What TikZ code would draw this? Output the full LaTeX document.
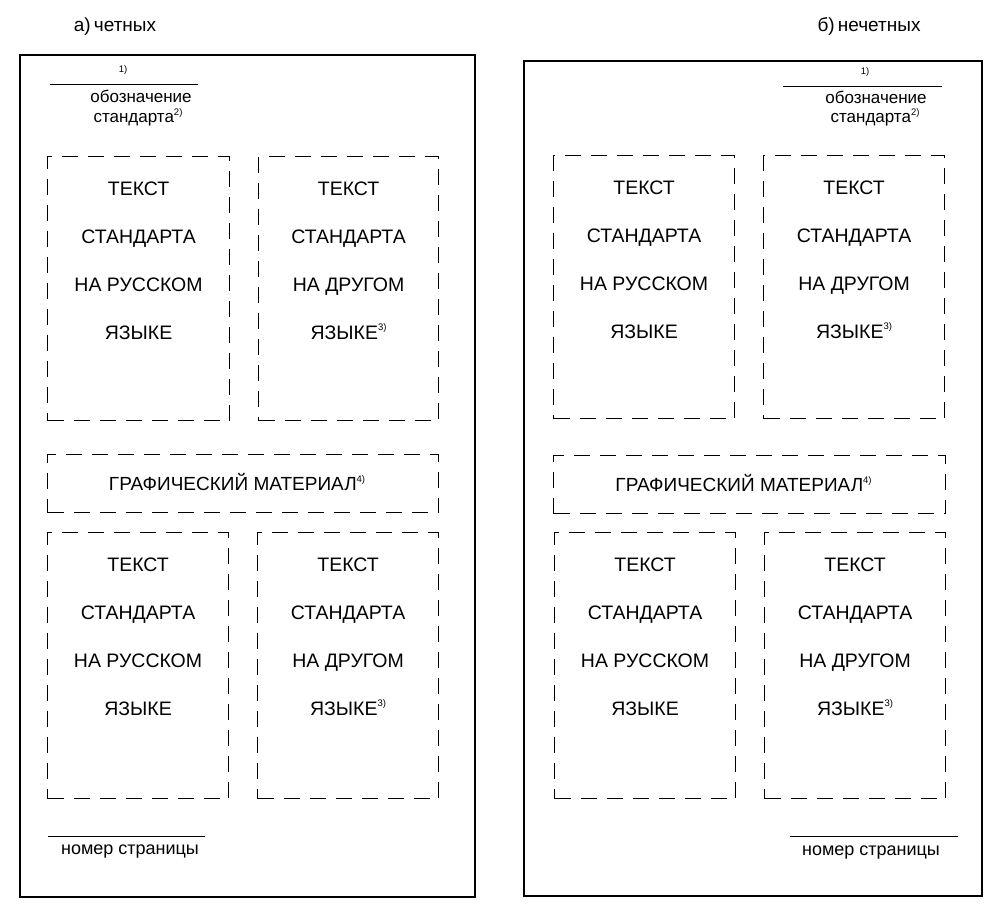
\documentclass[tikz,border=0pt]{standalone}
\usepackage{fontspec}
\setmainfont{Liberation Sans}
\usetikzlibrary{calc}

\newcommand{\fnmark}[1]{\raisebox{0.42em}{\fontsize{9.5}{9.5}\selectfont #1}}

\tikzset{
  pageframe/.style={draw,line width=1.6pt},
  textbox/.style={draw,dash pattern=on 16pt off 10pt,line width=1.1pt,inner sep=0pt,anchor=north west},
  word/.style={font=\fontsize{17}{20}\selectfont,anchor=base,inner sep=0pt},
  caps/.style={font=\fontsize{19.5}{22}\selectfont,anchor=base,inner sep=0pt},
  note/.style={font=\fontsize{9.5}{9.5}\selectfont,inner sep=0pt},
  rule/.style={line width=0.9pt}
}

\begin{document}
\begin{tikzpicture}[x=1pt,y=-1pt]
\useasboundingbox (0,0) rectangle (995,912);

% a) even pages
\node[word,font=\fontsize{19}{22}\selectfont] (titleA) at (115,31.5) {а)\,четных};
\draw[pageframe] (20,55) rectangle (475,897);
\node[note] (fnA) at (123,70) {1)};
\draw[rule] (50,84) -- (198,84);
\node[word] (desA) at (141,102.5) {обозначение};
\node[word] (stdA) at (138,122.5) {стандарта\fnmark{2)}};

\node[textbox,minimum width=182pt,minimum height=264pt] (ruA) at (47,156) {};
\node[textbox,minimum width=180pt,minimum height=264pt] (otA) at (258,156) {};
\node[textbox,minimum width=391pt,minimum height=58pt] (grA) at (47,454) {};
\node[textbox,minimum width=181pt,minimum height=266pt] (ruB) at (47,532) {};
\node[textbox,minimum width=181pt,minimum height=266pt] (otB) at (257,532) {};

\draw[rule] (48,836) -- (205,836);
\node[word,font=\fontsize{18}{20}\selectfont] (pgA) at (130,854.5) {номер страницы};

% b) odd pages
\node[word,font=\fontsize{19}{22}\selectfont] (titleB) at (869,31.5) {б)\,нечетных};
\draw[pageframe] (524,61) rectangle (982,896);
\node[note] (fnB) at (865,72) {1)};
\draw[rule] (783,86) -- (942,86);
\node[word] (desB) at (876,104) {обозначение};
\node[word] (stdB) at (875,123) {стандарта\fnmark{2)}};

\node[textbox,minimum width=181pt,minimum height=263pt] (ruC) at (553,155) {};
\node[textbox,minimum width=181pt,minimum height=263pt] (otC) at (763,155) {};
\node[textbox,minimum width=392pt,minimum height=58pt] (grB) at (553,455) {};
\node[textbox,minimum width=181pt,minimum height=266pt] (ruD) at (554,532) {};
\node[textbox,minimum width=181pt,minimum height=266pt] (otD) at (764,532) {};

\draw[rule] (790,836) -- (958,836);
\node[word,font=\fontsize{18}{20}\selectfont] (pgB) at (871,855.5) {номер страницы};

% texts in the boxes
\foreach \bx in {ruA,ruB,ruC,ruD}
  \foreach \txt [count=\i] in {ТЕКСТ,СТАНДАРТА,НА РУССКОМ,ЯЗЫКЕ}
    \node[caps] (\bx-\i) at ($(\bx.north)+(0,{48*\i-9})$) {\txt};
\foreach \bx in {otA,otB,otC,otD}
  \foreach \txt [count=\i] in {ТЕКСТ,СТАНДАРТА,НА ДРУГОМ,ЯЗЫКЕ\fnmark{3)}}
    \node[caps] (\bx-\i) at ($(\bx.north)+(0,{48*\i-9})$) {\txt};
\foreach \bx in {grA,grB}
  \node[caps,font=\fontsize{19}{22}\selectfont] (\bx-1) at ($(\bx.center)+(-6,7)$) {ГРАФИЧЕСКИЙ МАТЕРИАЛ\fnmark{4)}};
\end{tikzpicture}
\end{document}
